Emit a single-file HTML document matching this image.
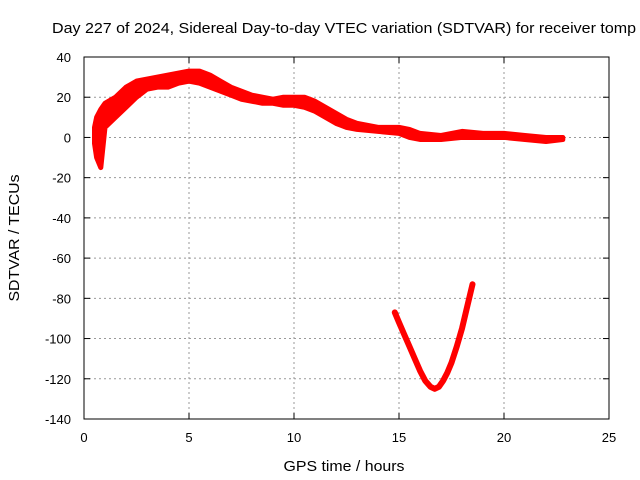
<!DOCTYPE html>
<html><head><meta charset="utf-8"><style>body{margin:0;background:#fff}svg{display:block;font-family:"Liberation Sans",sans-serif}</style></head>
<body>
<svg id="chart" width="640" height="480" viewBox="0 0 640 480">
<text x="52" y="33" font-size="14.5" textLength="584" lengthAdjust="spacingAndGlyphs" fill="#000">Day 227 of 2024, Sidereal Day-to-day VTEC variation (SDTVAR) for receiver tomp</text>
<text x="344" y="471" font-size="14.5" textLength="121" lengthAdjust="spacingAndGlyphs" text-anchor="middle">GPS time / hours</text>
<text transform="translate(19,238) rotate(-90)" font-size="14.5" textLength="127" lengthAdjust="spacingAndGlyphs" text-anchor="middle">SDTVAR / TECUs</text>
<g id="grid"></g><g id="ticks"></g><g id="marks"></g>
<rect x="84" y="57" width="525" height="362" fill="none" stroke="#000" stroke-width="1"/>
</svg>
<script>
const xTicks=[0,5,10,15,20,25];
const yTicks=[40,20,0,-20,-40,-60,-80,-100,-120,-140];
const bandHours=[0.5,0.6,0.8,1,1.5,2,2.5,3,3.5,4,4.5,5,5.5,6,6.5,7,7.5,8,8.5,9,9.5,10,10.5,11,11.5,12,12.5,13,13.5,14,15,15.5,16,17,18,19,20,21,22,22.8];
const bandUpper=[5,10,14,17,20,25,28,29,30,31,32,33,33,31,28,25,23,21,20,19,20,20,20,18,15,12,9,7,6,5,5,4,2,1,3,2,2,1,0,0];
const bandLower=[-3,-10,-15,5,10,15,20,24,25,25,27,28,27,25,23,21,19,18,17,17,16,16,15,13,10,7,5,4,3.5,3,2,0,-1,-1,0,0,0,-1,-2,-1];
const vHours=[14.8,15,15.25,15.5,15.75,16,16.25,16.5,16.7,16.9,17.1,17.3,17.5,17.75,18,18.25,18.5];
const vValues=[-87,-92,-98,-104,-110,-116,-121,-124,-125,-124,-121,-117,-112,-104,-95,-84,-73];
const X=h=>84+h*21, Y=v=>57+(40-v)*362/180;
const NS="http://www.w3.org/2000/svg";
function mk(t,a,p){const e=document.createElementNS(NS,t);for(const k in a)e.setAttribute(k,a[k]);p.appendChild(e);return e;}
const grid=document.getElementById('grid'),ticks=document.getElementById('ticks'),marks=document.getElementById('marks');
xTicks.forEach(t=>{const x=X(t);
 if(t>0&&t<25){const g=mk('line',{x1:x,x2:x,y1:57,y2:419,stroke:'#999','stroke-dasharray':'2,3'},grid);
 
 }
 const l=mk('text',{x:x,y:442,'font-size':13,'text-anchor':'middle'},ticks);l.textContent=t;
 
 
 mk('line',{x1:x,x2:x,y1:419,y2:413,stroke:'#000'},ticks);mk('line',{x1:x,x2:x,y1:57,y2:63,stroke:'#000'},ticks);});
yTicks.forEach(t=>{const y=Y(t);
 if(t<40&&t>-140){const g=mk('line',{x1:84,x2:609,y1:y,y2:y,stroke:'#999','stroke-dasharray':'2,3'},grid);
 
 }
 const l=mk('text',{x:71,y:y+5,'font-size':13,'text-anchor':'end'},ticks);l.textContent=t;
 
 
 mk('line',{x1:84,x2:90,y1:y,y2:y,stroke:'#000'},ticks);mk('line',{x1:609,x2:603,y1:y,y2:y,stroke:'#000'},ticks);});
let pts=bandHours.map((h,i)=>X(h)+','+Y(bandUpper[i]));
let ptsL=bandHours.map((h,i)=>X(h)+','+Y(bandLower[i]));
const band=mk('polygon',{points:pts.concat(ptsL.slice().reverse()).join(' '),fill:'#f00',stroke:'#f00','stroke-width':5,'stroke-linejoin':'round'},marks);


const v=mk('polyline',{points:vHours.map((h,i)=>X(h)+','+Y(vValues[i])).join(' '),fill:'none',stroke:'#f00','stroke-width':6,'stroke-linejoin':'round','stroke-linecap':'round'},marks);


</script>
</body></html>
